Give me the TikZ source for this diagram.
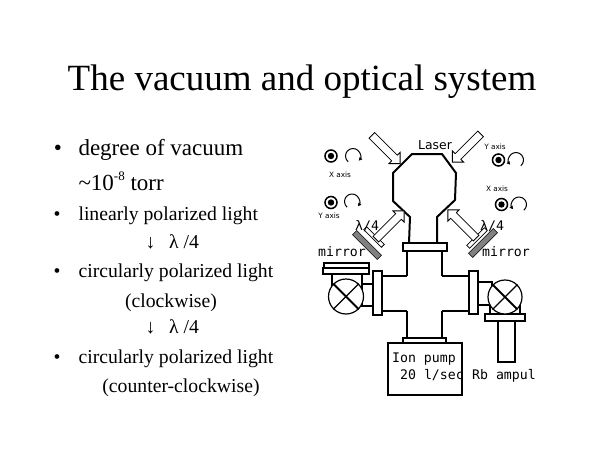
\documentclass[tikz,border=0pt]{standalone}
\usepackage{fontspec}
\setmainfont{Liberation Serif}
\newfontfamily\gothic{DejaVu Sans Mono}
\newfontfamily\labelsans{DejaVu Sans}
\usetikzlibrary{
    arrows.meta,
    positioning
}

\tikzset{
    big/.style={font=\fontsize{23}{26}\selectfont},
    small/.style={font=\fontsize{19.7}{22}\selectfont},
    tag/.style={anchor=base west, inner sep=0pt, font=\gothic\fontsize{13.2}{15}\selectfont},
    axis/.style={inner sep=0pt, font=\labelsans\fontsize{7.3}{8}\selectfont},
    wall/.style={line width=2pt},
    pipe/.style={line width=1.2pt},
    beam/.pic={
        \draw[line width=0.8pt, fill=white] (-20,-4) -- (12,-4) -- (12,-8) -- (20,0)
            -- (12,8) -- (12,4) -- (-20,4) -- cycle;
    },
    mirrorbar/.style={draw, fill=gray, line width=0.6pt, inner sep=0pt,
        minimum width=35pt, minimum height=6pt},
    plate/.style={draw, fill=white, line width=0.8pt, inner sep=0pt,
        minimum width=25pt, minimum height=4pt},
    spot/.style={draw, circle, line width=1.5pt, inner sep=0pt, minimum size=12pt},
    curl/.style={line width=1pt, -{Latex[length=3.5pt, width=4pt]}}
}

\begin{document}
\begin{tikzpicture}[x=1pt, y=-1pt]
    \useasboundingbox (0,0) rectangle (600,450);

    \node[anchor=base] (title) at (302,90) {\fontsize{37}{40}\selectfont The vacuum and optical system};

    \node[big, anchor=base] (dot1) at (58,155) {\textbullet};
    \node[big, anchor=base west] (vac) at (75,155) {degree of vacuum};
    \node[big, anchor=base west] (vacval) at (75,190)
        {\textasciitilde10\raisebox{0.42em}{\fontsize{13}{13}\selectfont -8} torr};
    \node[small, anchor=base] (dot2) at (57,220) {\textbullet};
    \node[small, anchor=base west] (lin) at (75,220) {linearly polarized light};
    \node[small, anchor=base west] (step1) at (142,248) {↓\hspace{0.7em}λ /4};
    \node[small, anchor=base] (dot3) at (57,277) {\textbullet};
    \node[small, anchor=base west] (circ1) at (75,277) {circularly polarized light};
    \node[small, anchor=base] (cw) at (171,307) {(clockwise)};
    \node[small, anchor=base west] (step2) at (142,333) {↓\hspace{0.7em}λ /4};
    \node[small, anchor=base] (dot4) at (57,363) {\textbullet};
    \node[small, anchor=base west] (circ2) at (75,363) {circularly polarized light};
    \node[small, anchor=base] (ccw) at (181,392) {(counter-clockwise)};

    \draw[wall] (409,243) -- (410,217) -- (393,201) -- (393,173) -- (412,154)
        -- (442,154) -- (456,173) -- (455,200) -- (437,217) -- (437,243);

    \draw[wall] (407,251) -- (407,276) (407,311) -- (407,338)
        (442,251) -- (442,276) (442,311) -- (442,338);
    \draw[pipe] (382,276) -- (407,276) (382,311) -- (407,311)
        (442,276) -- (469,276) (442,311) -- (469,311);
    \draw[wall, fill=white] (403,243) rectangle (447,251);
    \draw[wall, fill=white] (403,338) rectangle (446,343);
    \draw[wall] (388,343) rectangle (462,395);
    \draw[pipe, fill=white] (373,271) rectangle (382,315);
    \draw[pipe, fill=white] (469,271) rectangle (478,314);

    \draw[pipe] (362,284) rectangle (373,306);
    \draw[pipe] (332,274) rectangle (362,290);
    \draw[pipe, fill=white] (324,263) rectangle (369,268);
    \draw[pipe, fill=white] (323,268) rectangle (369,274);
    \node[draw, circle, pipe, fill=white, minimum size=35pt, inner sep=0pt] (lvalve) at (346,296.5) {};
    \draw[wall] (lvalve.north west) -- (lvalve.south east);
    \draw[pipe] (lvalve.south west) -- (lvalve.north east);

    \draw[pipe] (478,282) rectangle (492,305);
    \draw[pipe] (490,305) rectangle (520,314);
    \draw[pipe, fill=white] (485,314) rectangle (525,321);
    \draw[pipe] (498,321) rectangle (515,362);
    \node[draw, circle, pipe, fill=white, minimum size=34pt, inner sep=0pt] (rvalve) at (505,297) {};
    \draw[wall] (rvalve.north west) -- (rvalve.south east);
    \draw[pipe] (rvalve.south west) -- (rvalve.north east);

    \node[mirrorbar, rotate=-45] (lmir) at (367,245) {};
    \node[plate, rotate=-45] (lwp) at (374,237) {};
    \node[mirrorbar, rotate=45] (rmir) at (483,243) {};
    \node[plate, rotate=45] (rwp) at (477,238) {};

    \pic[rotate=-45] (inTL) at (386,149.5) {beam};
    \pic[rotate=-135] (inTR) at (466.5,148) {beam};
    \pic[rotate=45] (outLL) at (390,225) {beam};
    \pic[rotate=135] (outLR) at (462,224) {beam};

    \node[spot] (spotTL) at (331,156) {};
    \node[spot] (spotLL) at (331,202.5) {};
    \node[spot] (spotTR) at (498.5,160) {};
    \node[spot] (spotMR) at (501.5,204.5) {};
    \foreach \s in {spotTL, spotLL, spotTR, spotMR}
        \fill (\s) circle (3.2);

    \coordinate (curlTL) at (353,156);
    \coordinate (curlLL) at (352,201.5);
    \coordinate (curlTR) at (516,160);
    \coordinate (curlMR) at (519,204.5);
    \draw[curl] (curlTL) ++(130:7.5) arc[start angle=130, end angle=400, radius=7.5];
    \draw[curl] (curlLL) ++(130:7.5) arc[start angle=130, end angle=400, radius=7.5];
    \draw[curl] (curlTR) ++(50:7.5) arc[start angle=50, end angle=-220, radius=7.5];
    \draw[curl] (curlMR) ++(50:7.5) arc[start angle=50, end angle=-220, radius=7.5];

    \node[axis] (axTL) at (340,175) {X axis};
    \node[axis] (axLL) at (329,215.5) {Y axis};
    \node[axis] (axTR) at (495,146.5) {Y axis};
    \node[axis] (axMR) at (497,188.5) {X axis};

    \node[tag, font=\labelsans\fontsize{12.4}{14}\selectfont] (laser) at (418,149) {Laser};
    \node[tag] (lqw) at (355,230) {λ/4};
    \node[tag] (rqw) at (480,230) {λ/4};
    \node[tag] (lmirtag) at (318,256.5) {mirror};
    \node[tag] (rmirtag) at (482,256.5) {mirror};
    \node[tag] (pump) at (392,362.5) {Ion pump};
    \node[tag] (speed) at (400,379.5) {20 l/sec};
    \node[tag] (ampul) at (472,379.5) {Rb ampul};
\end{tikzpicture}
\end{document}
